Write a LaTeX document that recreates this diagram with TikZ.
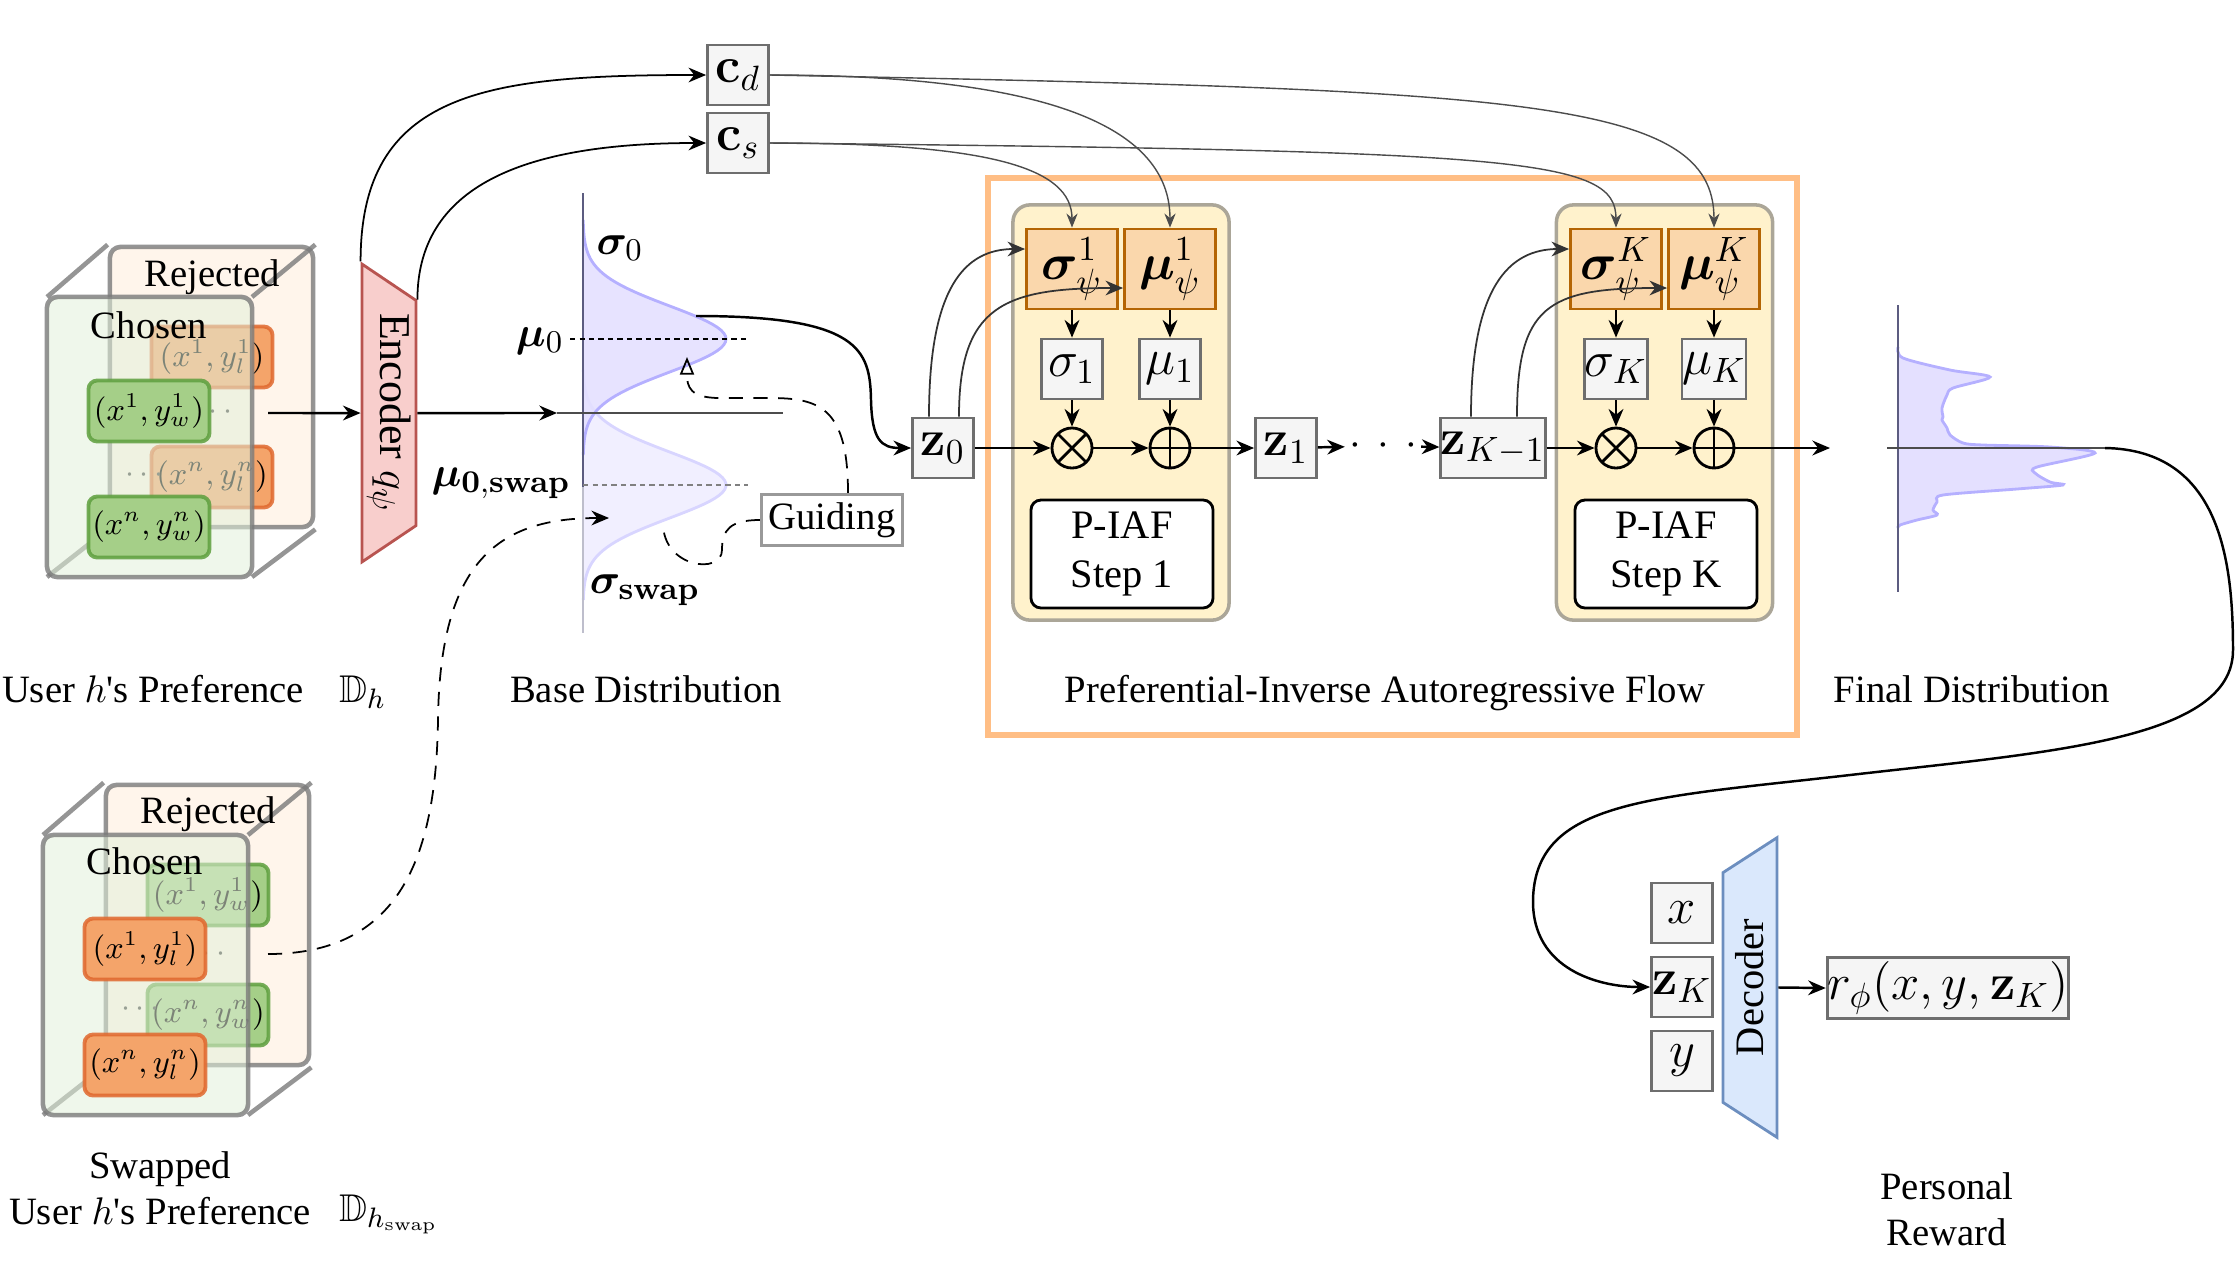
\documentclass[tikz,border=0pt]{standalone}
\usepackage{amsmath,amssymb,bm}
\usepackage[no-math]{fontspec}
\setmainfont{Liberation Serif}
\usetikzlibrary{arrows.meta, positioning, shapes.geometric, calc}
\definecolor{rejfill}{HTML}{FFF5EB}
\definecolor{chofill}{HTML}{E2F0DA}
\definecolor{facegray}{HTML}{7A7A7A}
\definecolor{tupor}{HTML}{F4A46A}
\definecolor{tupordraw}{HTML}{E0682E}
\definecolor{tupgr}{HTML}{A5CF88}
\definecolor{tupgrdraw}{HTML}{5E9F3E}
\definecolor{encfill}{HTML}{F8CECC}
\definecolor{encdraw}{HTML}{B85450}
\definecolor{decfill}{HTML}{DAE8FC}
\definecolor{decdraw}{HTML}{6C8EBF}
\definecolor{blockfill}{HTML}{FFF2CC}
\definecolor{blockdraw}{HTML}{ABA698}
\definecolor{psifill}{HTML}{FAD7AC}
\definecolor{psidraw}{HTML}{B46504}
\definecolor{valfill}{HTML}{F5F5F5}
\definecolor{valdraw}{HTML}{6E6E6E}
\definecolor{frameor}{HTML}{FFBE85}
\definecolor{gfillA}{HTML}{E4E0FF}
\definecolor{glineA}{HTML}{B5B0FF}
\definecolor{gfillB}{HTML}{F1EFFF}
\definecolor{glineB}{HTML}{D8D5FF}
\definecolor{eixo}{HTML}{5C5C80}
\tikzset{
  lbl/.style={font=\fontsize{11}{13}\selectfont, align=center, inner sep=1pt},
  mlbl/.style={font=\fontsize{12.5}{15}\selectfont, inner sep=1pt},
  face/.style={draw=facegray, line width=1.3pt, draw opacity=0.8, rounded corners=3pt},
  edge3d/.style={draw=facegray, line width=1.3pt, draw opacity=0.8},
  tuple/.style={rounded corners=2.5pt, line width=1.1pt, draw opacity=0.85,
    minimum width=1.21cm, minimum height=0.61cm, inner sep=0pt, font=\small},
  tupleor/.style={tuple, fill=tupor, draw=tupordraw},
  tuplegr/.style={tuple, fill=tupgr, draw=tupgrdraw},
  pontos/.style={text=black!75, font=\small, inner sep=0pt},
  trapez/.style={trapezium, trapezium angle=53.8, trapezium stretches=true,
    minimum height=0.54cm, inner sep=0pt, line width=0.8pt},
  valbox/.style={draw=valdraw, fill=valfill, line width=0.8pt, minimum width=0.61cm,
    minimum height=0.6cm, inner sep=0pt, font=\fontsize{14}{16}\selectfont},
  psibox/.style={draw=psidraw, fill=psifill, line width=0.8pt, minimum width=0.91cm,
    minimum height=0.8cm, inner sep=0pt, font=\fontsize{14}{16}\selectfont},
  opnode/.style={circle, draw, line width=0.8pt, minimum size=0.4cm, inner sep=0pt},
  opmul/.style={opnode, path picture={
    \draw[line width=0.8pt] (path picture bounding box.north west) -- (path picture bounding box.south east)
      (path picture bounding box.south west) -- (path picture bounding box.north east);}},
  opadd/.style={opnode, path picture={
    \draw[line width=0.8pt] (path picture bounding box.north) -- (path picture bounding box.south)
      (path picture bounding box.west) -- (path picture bounding box.east);}},
  stepbox/.style={draw, fill=white, rounded corners=0.1cm, line width=0.8pt, minimum width=1.82cm,
    minimum height=0.96cm, align=center, font=\fontsize{11.5}{14}\selectfont},
  flowblock/.style={draw=blockdraw, fill=blockfill, line width=1pt, rounded corners=0.17cm,
    minimum width=2.16cm, minimum height=4.15cm},
  seta/.style={-{Stealth[length=5pt, width=4.2pt]}, line width=0.7pt},
  setafina/.style={-{Stealth[length=4pt, width=3.2pt]}, line width=0.4pt, draw=black!70},
  guia/.style={dash pattern=on 4pt off 3pt, line width=0.5pt},
}

\begin{document}
\begin{tikzpicture}[x=0.01cm, y=-0.01cm]
\useasboundingbox (0,0) rectangle (2236,1272);

% user h preference
\node[face, fill=rejfill, minimum width=2.03cm, minimum height=2.8cm] (rejA) at (211.5,387) {};
\draw[edge3d] (47,297) -- (rejA.north west) (252,297) -- (rejA.north east)
  (252,577) -- (rejA.south east) (47,577) -- (rejA.south west);
\node[lbl] (rejtA) at (212,277) {Rejected};
\node[tupleor] (tA1) at (212,357) {$(x^1,y_l^1)$};
\node[tupleor] (tA2) at (212,477) {$(x^n,y_l^n)$};
\node[pontos] (dA1) at (216,412) {$\cdots$};
\node[pontos] (dA2) at (147,475) {$\cdots$};
\node[face, fill=chofill, fill opacity=0.55, minimum width=2.05cm, minimum height=2.8cm] (choA) at (149.5,437) {};
\node[lbl] (chotA) at (149,325) {Chosen};
\node[tuplegr] (tA3) at (149,411) {$(x^1,y_w^1)$};
\node[tuplegr] (tA4) at (149,527) {$(x^n,y_w^n)$};

% swapped preference
\begin{scope}[shift={(-4,538)}]
\node[face, fill=rejfill, minimum width=2.03cm, minimum height=2.8cm] (rejB) at (211.5,387) {};
\draw[edge3d] (47,297) -- (rejB.north west) (252,297) -- (rejB.north east)
  (252,577) -- (rejB.south east) (47,577) -- (rejB.south west);
\node[lbl] (rejtB) at (212,276) {Rejected};
\node[tuplegr] (tB1) at (212,357) {$(x^1,y_w^1)$};
\node[tuplegr] (tB2) at (212,477) {$(x^n,y_w^n)$};
\node[pontos] (dB1) at (213,416) {$\cdots$};
\node[pontos] (dB2) at (147,471) {$\cdots$};
\node[face, fill=chofill, fill opacity=0.55, minimum width=2.05cm, minimum height=2.8cm] (choB) at (149.5,437) {};
\node[lbl] (chotB) at (149,323) {Chosen};
\node[tupleor] (tB3) at (149,411) {$(x^1,y_l^1)$};
\node[tupleor] (tB4) at (149,527) {$(x^n,y_l^n)$};
\end{scope}

\node[lbl, anchor=base] (userA) at (153,702) {User $h$\textquotesingle s Preference};
\node[lbl, anchor=base west] (dsA) at (335,702) {$\mathbb{D}_h$};
\node[lbl] (userB) at (160,1188) {Swapped\\User $h$\textquotesingle s Preference};
\node[lbl, anchor=base west] (dsB) at (335,1221) {$\mathbb{D}_{h_{\mathrm{swap}}}$};

% encoder
\node[trapez, rotate=-90, fill=encfill, draw=encdraw, minimum width=3cm,
  font=\fontsize{12.5}{14}\selectfont] (enc) at (389,413) {Encoder $q_\psi$};
\coordinate (stkoutA) at (268,413);
\draw[seta] (stkoutA) -- (enc.south);

\node[valbox] (cd) at (738,75) {$\mathbf{c}_d$};
\node[valbox] (cs) at (738,143) {$\mathbf{c}_s$};
\draw[seta, line width=0.5pt] (enc.bottom left corner) .. controls +(0,-170) and +(-220,0) .. (cd.west);
\draw[seta, line width=0.5pt] (enc.top left corner) .. controls +(0,-120) and +(-170,0) .. (cs.west);

% base distribution
\fill[gfillB] (583,370) -- plot[domain=370:600, samples=80] ({583+143*exp(-0.5*((\x-485)/33)^2)}, \x) -- cycle;
\draw[glineB, line width=0.8pt] plot[domain=370:600, samples=80] ({583+143*exp(-0.5*((\x-485)/33)^2)}, \x);
\fill[gfillA, fill opacity=0.9] (583,220) -- plot[domain=220:455, samples=80] ({583+143*exp(-0.5*((\x-339)/33)^2)}, \x) -- cycle;
\draw[glineA, line width=0.8pt] plot[domain=220:455, samples=80] ({583+143*exp(-0.5*((\x-339)/33)^2)}, \x);
\draw[eixo, line width=0.8pt] (583,193) -- (583,487);
\draw[eixo!40, line width=0.8pt] (583,487) -- (583,633);
\coordinate (basein) at (557,413);
\draw[black!70, line width=0.6pt] (basein) -- (783,413);
\draw[seta] (enc.north) -- (basein);
\draw[line width=0.4pt, dash pattern=on 1.5pt off 1.2pt] (570,339) -- (748,339);
\draw[black!50, line width=0.4pt, dash pattern=on 1.5pt off 1.2pt] (583,485) -- (748,485);
\node[mlbl] (sig0) at (620,248) {$\bm{\sigma}_0$};
\node[mlbl, anchor=east] (mu0) at (568,341) {$\bm{\mu}_0$};
\node[mlbl, anchor=east] (mu0s) at (575,483) {$\bm{\mu}_{\mathbf{0,swap}}$};
\node[mlbl] (sigs) at (645,590) {$\bm{\sigma}_{\mathbf{swap}}$};
\node[lbl, draw=black!40, line width=0.9pt, fill=white, minimum width=1.41cm,
  minimum height=0.51cm] (guide) at (832,520) {Guiding};
\node[lbl, anchor=base] (basetxt) at (646,702) {Base Distribution};

\coordinate (guidetip) at (687,357);
\coordinate (guidelow) at (663,523);
\coordinate (swapin) at (609,518);
\coordinate (stkoutB) at (268,954);
\draw[guia, -{Triangle[open, length=5pt, width=4pt]}] ($(guide.north)+(16,0)$) .. controls +(0,-85) and +(50,0) .. (770,398)
  -- (720,398) .. controls +(-30,0) and +(0,30) .. (guidetip);
\draw[guia] (guide.west) .. controls +(-30,0) and +(0,-20) .. (722,550) .. controls +(0,25) and +(0,45) .. (guidelow);
\draw[guia, -{Stealth[length=5pt, width=4.2pt]}] (stkoutB) .. controls +(130,0) and +(-2,140) .. (438,720)
  .. controls +(2,-160) and +(-110,0) .. (swapin);

% P-IAF
\node[draw=frameor, line width=1.8pt, minimum width=8.09cm, minimum height=5.57cm] (piaf) at (1392.5,456.5) {};
\node[lbl, anchor=base] (piaftxt) at (1385,702) {Preferential-Inverse Autoregressive Flow};

\node[valbox] (z0) at (943,448) {$\mathbf{z}_0$};
\coordinate (g0out) at (696,316);
\draw[seta] (g0out) .. controls +(164,0) and +(-1,-50) .. (871,400) .. controls +(1,40) and +(-30,0) .. (z0.west);

\node[flowblock] (blk1) at (1121,412.5) {};
\node[psibox] (sigpsi1) at (1072,269) {$\bm{\sigma}_\psi^1$};
\node[psibox] (mupsi1) at (1170,269) {$\bm{\mu}_\psi^1$};
\node[valbox] (sig1) at (1072,369) {$\sigma_1$};
\node[valbox] (mu1) at (1170,369) {$\mu_1$};
\node[opmul] (mul1) at (1072,448) {};
\node[opadd] (add1) at (1170,448) {};
\node[stepbox] (step1) at (1122,554) {P-IAF\\Step 1};

\node[valbox] (z1) at (1286,448) {$\mathbf{z}_1$};
\node[inner sep=1pt, font=\fontsize{13}{15}\selectfont] (dots) at (1383,446) {$\cdot\,\cdot\,\cdot$};
\node[valbox, minimum width=0.91cm] (zKm) at (1493,448) {$\mathbf{z}_{K-1}$};

\node[flowblock] (blkK) at (1664.5,412.5) {};
\node[psibox] (sigpsiK) at (1616,269) {$\bm{\sigma}_\psi^K$};
\node[psibox] (mupsiK) at (1714,269) {$\bm{\mu}_\psi^K$};
\node[valbox] (sigK) at (1616,369) {$\sigma_K$};
\node[valbox] (muK) at (1714,369) {$\mu_K$};
\node[opmul] (mulK) at (1616,448) {};
\node[opadd] (addK) at (1714,448) {};
\node[stepbox] (stepK) at (1666,554) {P-IAF\\Step K};
\coordinate (flowout) at (1830,448);

\draw[seta] (z0) -- (mul1);
\draw[seta] (mul1) -- (add1);
\draw[seta] (add1) -- (z1);
\draw[seta] (z1) -- (dots);
\draw[seta] (dots) -- (zKm);
\draw[seta] (zKm) -- (mulK);
\draw[seta] (mulK) -- (addK);
\draw[seta] (addK) -- (flowout);
\draw[seta] (sigpsi1) -- (sig1);
\draw[seta] (sig1) -- (mul1);
\draw[seta] (mupsi1) -- (mu1);
\draw[seta] (mu1) -- (add1);
\draw[seta] (sigpsiK) -- (sigK);
\draw[seta] (sigK) -- (mulK);
\draw[seta] (mupsiK) -- (muK);
\draw[seta] (muK) -- (addK);

\draw[seta, line width=0.5pt, draw=black!80] ($(z0.north)+(-14,0)$) .. controls +(0,-130) and +(-60,0) .. ($(sigpsi1.west)+(0,-20)$);
\draw[seta, line width=0.5pt, draw=black!80] ($(z0.north)+(16,0)$) .. controls +(0,-110) and +(-120,0) .. ($(mupsi1.west)+(0,19)$);
\draw[seta, line width=0.5pt, draw=black!80] ($(zKm.north)+(-22,0)$) .. controls +(0,-130) and +(-60,0) .. ($(sigpsiK.west)+(0,-20)$);
\draw[seta, line width=0.5pt, draw=black!80] ($(zKm.north)+(24,0)$) .. controls +(0,-110) and +(-120,0) .. ($(mupsiK.west)+(0,19)$);

\draw[setafina] (cd.east) .. controls +(280,0) and +(0,-100) .. (mupsi1.north);
\draw[setafina] (cd.east) .. controls +(750,15) and +(0,-130) .. (mupsiK.north);
\draw[setafina] (cs.east) .. controls +(220,0) and +(0,-60) .. (sigpsi1.north);
\draw[setafina] (cs.east) .. controls +(750,8) and +(0,-70) .. (sigpsiK.north);

% final distribution
\fill[gfillA] plot[smooth, tension=0.5] coordinates {(1898,347) (1903,358) (1950,370) (1990,377) (1953,388)
  (1947,395) (1942,408) (1943,417) (1942,420) (1947,428) (1950,435) (1963,443) (1983,445) (2050,447)
  (2095,453) (2037,467) (2035,473) (2050,482) (2063,485) (2017,489) (1943,495) (1937,502) (1933,510)
  (1937,515) (1917,520) (1900,525) (1898,528)} -- cycle;
\draw[glineA, line width=0.8pt] plot[smooth, tension=0.5] coordinates {(1898,347) (1903,358) (1950,370) (1990,377) (1953,388)
  (1947,395) (1942,408) (1943,417) (1942,420) (1947,428) (1950,435) (1963,443) (1983,445) (2050,447)
  (2095,453) (2037,467) (2035,473) (2050,482) (2063,485) (2017,489) (1943,495) (1937,502) (1933,510)
  (1937,515) (1917,520) (1900,525) (1898,528)};
\draw[eixo, line width=0.8pt] (1898,305) -- (1898,592);
\coordinate (fdend) at (2105,448);
\draw[black!70, line width=0.6pt] (1887,448) -- (fdend);
\node[lbl, anchor=base] (finaltxt) at (1972,702) {Final Distribution};

% decoder
\node[valbox] (xin) at (1682,913) {$x$};
\node[valbox] (zK) at (1682,987) {$\mathbf{z}_K$};
\node[valbox] (yin) at (1682,1061) {$y$};
\node[trapez, rotate=90, fill=decfill, draw=decdraw, minimum width=3.01cm,
  font=\fontsize{11.5}{14}\selectfont] (dec) at (1750,987.5) {Decoder};
\node[valbox, minimum width=2.4cm, minimum height=0.61cm] (rew) at (1948,988) {$r_\phi(x,y,\mathbf{z}_K)$};
\draw[seta] (dec.south) -- (rew.west);
\node[lbl] (rewtxt) at (1947,1209) {Personal\\Reward};

\draw[seta] (fdend) .. controls (2220,450) and (2233,560) .. (2233,650)
  .. controls (2233,740) and (2050,752) .. (1850,775)
  .. controls (1650,798) and (1535,800) .. (1533,900)
  .. controls (1532,970) and (1600,987) .. (zK.west);

\end{tikzpicture}
\end{document}
